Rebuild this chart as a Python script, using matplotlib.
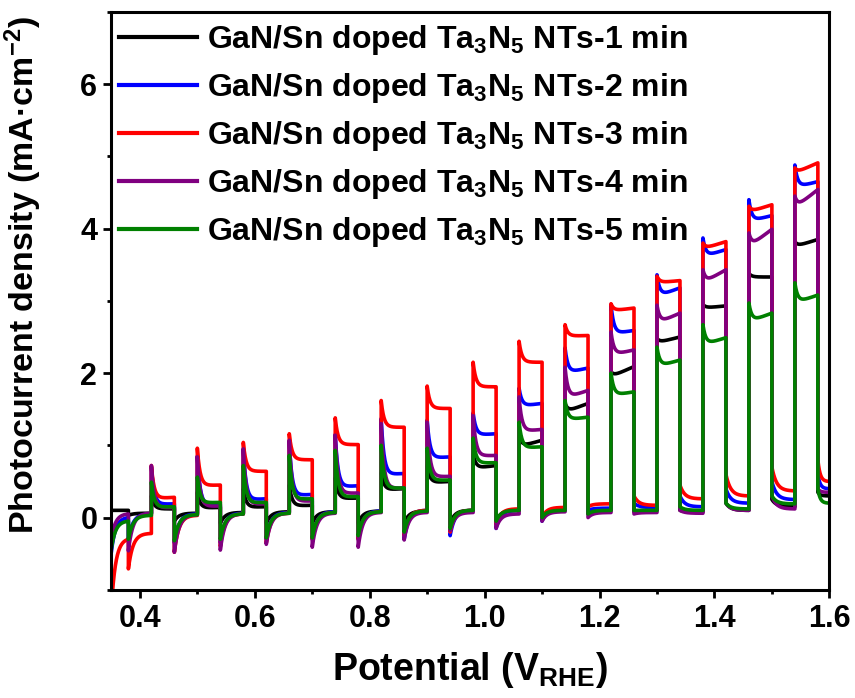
import numpy as np
import matplotlib
matplotlib.use("Agg")
import matplotlib.pyplot as plt

# ---------------- data ----------------
labels = [
    r"GaN/Sn doped Ta$_{3}$N$_{5}$ NTs-1 min",
    r"GaN/Sn doped Ta$_{3}$N$_{5}$ NTs-2 min",
    r"GaN/Sn doped Ta$_{3}$N$_{5}$ NTs-3 min",
    r"GaN/Sn doped Ta$_{3}$N$_{5}$ NTs-4 min",
    r"GaN/Sn doped Ta$_{3}$N$_{5}$ NTs-5 min",
]
colors = ["#000000", "#0000FF", "#FF0000", "#800080", "#008000"]

# light chopping potentials (V vs RHE)
light_on = [0.42, 0.50, 0.58, 0.66, 0.74, 0.82, 0.90, 0.98, 1.06, 1.14, 1.22, 1.30, 1.38, 1.46, 1.54]
light_off = [0.46, 0.54, 0.62, 0.70, 0.78, 0.86, 0.94, 1.02, 1.10, 1.18, 1.26, 1.34, 1.42, 1.50, 1.58]
scan_start, first_off, scan_end = 0.35, 0.38, 1.60

# initial part of the scan: [value at 0.35, value at 0.38, dip at 0.38, dark before 0.42]
init_1min = [0.10, 0.10, 0.03, 0.06]
init_2min = [-0.50, 0.00, -0.30, 0.05]
init_3min = [-1.30, -0.30, -0.71, -0.22]
init_4min = [-0.30, 0.05, -0.46, 0.06]
init_5min = [-0.45, -0.05, -0.30, 0.03]

# light-on transient spike
peak_1min = [0.30, 0.35, 0.40, 0.45, 0.55, 0.62, 0.72, 0.88, 1.12, 1.58, 2.02, 2.48, 2.95, 3.38, 3.82]
peak_2min = [0.70, 0.85, 0.95, 1.05, 1.15, 1.37, 1.35, 1.45, 1.79, 2.35, 2.95, 3.36, 3.87, 4.40, 4.88]
peak_3min = [0.72, 0.96, 1.04, 1.16, 1.38, 1.62, 1.82, 2.15, 2.44, 2.67, 2.96, 3.34, 3.80, 4.31, 4.84]
peak_4min = [0.72, 0.84, 0.95, 1.07, 1.14, 1.30, 1.32, 1.41, 1.67, 2.08, 2.57, 2.94, 3.43, 3.94, 4.45]
peak_5min = [0.49, 0.56, 0.72, 0.86, 0.93, 1.00, 0.96, 1.10, 1.32, 1.62, 2.00, 2.36, 2.67, 2.97, 3.25]

# photocurrent after the spike has relaxed
low_1min = [0.12, 0.13, 0.14, 0.16, 0.26, 0.38, 0.48, 0.68, 0.98, 1.46, 1.95, 2.42, 2.90, 3.33, 3.75]
low_2min = [0.18, 0.17, 0.24, 0.30, 0.42, 0.59, 0.82, 1.14, 1.54, 2.00, 2.54, 3.06, 3.61, 4.10, 4.57]
low_3min = [0.26, 0.44, 0.64, 0.80, 1.01, 1.25, 1.51, 1.81, 2.15, 2.51, 2.86, 3.25, 3.72, 4.23, 4.77]
low_4min = [0.13, 0.15, 0.18, 0.22, 0.33, 0.40, 0.56, 0.85, 1.19, 1.65, 2.25, 2.69, 3.25, 3.75, 4.29]
low_5min = [0.14, 0.20, 0.20, 0.25, 0.28, 0.40, 0.51, 0.75, 0.96, 1.35, 1.69, 2.09, 2.39, 2.71, 2.97]

# photocurrent just before light off
end_1min = [0.12, 0.14, 0.15, 0.17, 0.27, 0.40, 0.50, 0.72, 1.07, 1.58, 2.09, 2.50, 2.93, 3.33, 3.85]
end_2min = [0.19, 0.18, 0.26, 0.32, 0.44, 0.61, 0.84, 1.16, 1.58, 2.07, 2.59, 3.18, 3.71, 4.18, 4.65]
end_3min = [0.28, 0.45, 0.64, 0.80, 1.01, 1.25, 1.51, 1.81, 2.15, 2.52, 2.90, 3.28, 3.82, 4.33, 4.91]
end_4min = [0.14, 0.16, 0.19, 0.23, 0.34, 0.41, 0.57, 0.86, 1.22, 1.76, 2.32, 2.83, 3.43, 3.99, 4.54]
end_5min = [0.15, 0.21, 0.21, 0.26, 0.29, 0.41, 0.52, 0.76, 0.98, 1.39, 1.74, 2.18, 2.49, 2.83, 3.08]

# current right after light off
dip_1min = [-0.05, -0.08, -0.08, -0.08, -0.08, -0.08, -0.08, -0.05, 0.00, 0.05, 0.08, 0.10, 0.20, 0.25, 0.35]
dip_2min = [-0.35, -0.35, -0.30, -0.30, -0.30, -0.30, -0.25, -0.15, -0.05, 0.10, 0.20, 0.30, 0.40, 0.50, 0.60]
dip_3min = [-0.48, -0.40, -0.35, -0.30, -0.30, -0.25, -0.20, -0.10, 0.00, 0.15, 0.30, 0.45, 0.60, 0.70, 0.80]
dip_4min = [-0.48, -0.45, -0.37, -0.41, -0.41, -0.31, -0.18, -0.15, -0.05, 0.00, 0.05, 0.10, 0.20, 0.30, 0.40]
dip_5min = [-0.32, -0.30, -0.28, -0.28, -0.25, -0.20, -0.15, -0.05, 0.00, 0.05, 0.10, 0.15, 0.20, 0.30, 0.40]

# dark current at the end of each dark period
dark_1min = [0.06, 0.07, 0.08, 0.08, 0.09, 0.09, 0.10, 0.10, 0.10, 0.10, 0.10, 0.08, 0.10, 0.15, 0.30]
dark_2min = [0.05, 0.06, 0.07, 0.08, 0.09, 0.10, 0.10, 0.10, 0.12, 0.13, 0.14, 0.15, 0.20, 0.25, 0.40]
dark_3min = [0.03, 0.05, 0.06, 0.07, 0.08, 0.10, 0.10, 0.12, 0.14, 0.19, 0.17, 0.26, 0.30, 0.37, 0.50]
dark_4min = [0.04, 0.05, 0.06, 0.06, 0.07, 0.07, 0.07, 0.05, 0.08, 0.07, 0.07, 0.06, 0.10, 0.12, 0.35]
dark_5min = [0.04, 0.05, 0.06, 0.07, 0.08, 0.09, 0.10, 0.10, 0.10, 0.10, 0.10, 0.10, 0.12, 0.19, 0.20]

series = [
    (init_1min, peak_1min, low_1min, end_1min, dip_1min, dark_1min),
    (init_2min, peak_2min, low_2min, end_2min, dip_2min, dark_2min),
    (init_3min, peak_3min, low_3min, end_3min, dip_3min, dark_3min),
    (init_4min, peak_4min, low_4min, end_4min, dip_4min, dark_4min),
    (init_5min, peak_5min, low_5min, end_5min, dip_5min, dark_5min),
]


def relax(start, target, n, tau):
    s = np.linspace(0, 1, n)
    w = (np.exp(-s / tau) - np.exp(-1 / tau)) / (1 - np.exp(-1 / tau))
    return target + (start - target) * w


def build(init, peak, low, end, dip, dark):
    xs, ys = [], []
    n = 50
    xs.append(np.linspace(scan_start, first_off, n))
    ys.append(relax(init[0], init[1], n, 0.25))
    xs.append(np.linspace(first_off, light_on[0], n))
    ys.append(relax(init[2], init[3], n, 0.2))
    for k in range(len(light_on)):
        s = np.linspace(0, 1, n)
        xs.append(np.linspace(light_on[k], light_off[k], n))
        ys.append(low[k] + (end[k] - low[k]) * s + (peak[k] - low[k]) * np.exp(-s / 0.12))
        nxt = light_on[k + 1] if k + 1 < len(light_on) else scan_end
        xs.append(np.linspace(light_off[k], nxt, n))
        ys.append(relax(dip[k], dark[k], n, 0.2))
    return np.concatenate(xs), np.concatenate(ys)


# ---------------- style ----------------
plt.rcParams["font.family"] = ["Liberation Sans", "DejaVu Sans"]
plt.rcParams["font.weight"] = "bold"
plt.rcParams["mathtext.fontset"] = "custom"
plt.rcParams["mathtext.rm"] = "Liberation Sans:bold"
plt.rcParams["mathtext.bf"] = "Liberation Sans:bold"
plt.rcParams["mathtext.it"] = "Liberation Sans:bold:italic"
plt.rcParams["mathtext.default"] = "rm"

fig = plt.figure(figsize=(8.55, 6.98), dpi=100)
ax = fig.add_axes([0.130, 0.155, 0.840, 0.828])

for (init, peak, low, end, dip, dark), c, lab in zip(series, colors, labels):
    x, y = build(init, peak, low, end, dip, dark)
    ax.plot(x, y, color=c, lw=2.6, label=lab, solid_joinstyle="round")

ax.set_xlim(0.35, 1.6)
ax.set_ylim(-1, 7)
ax.set_xticks([0.4, 0.6, 0.8, 1.0, 1.2, 1.4, 1.6])
ax.set_xticks([0.5, 0.7, 0.9, 1.1, 1.3, 1.5], minor=True)
ax.set_yticks([0, 2, 4, 6])
ax.set_yticks([-1, 1, 3, 5, 7], minor=True)
ax.set_xticklabels(["0.4", "0.6", "0.8", "1.0", "1.2", "1.4", "1.6"])
ax.set_yticklabels(["0", "2", "4", "6"])
ax.tick_params(which="major", direction="out", length=6, width=2, labelsize=22, pad=4)
ax.tick_params(which="minor", direction="out", length=3, width=2)
for lbl in ax.get_xticklabels() + ax.get_yticklabels():
    lbl.set_fontweight("bold")
for sp in ax.spines.values():
    sp.set_linewidth(2.2)

ax.set_xlabel(r"Potential (V$_{\mathrm{RHE}}$)", fontsize=27, fontweight="bold", labelpad=12)
ax.set_ylabel("Photocurrent density (mA\u00b7cm$^{-2}$)", fontsize=24.5, fontweight="bold")
ax.yaxis.set_label_coords(-0.094, 0.545)

leg = ax.legend(loc="upper left", bbox_to_anchor=(0.0, 0.995), frameon=False,
                prop={"size": 23, "weight": "bold"}, handlelength=2.45,
                handletextpad=0.3, labelspacing=0.44, borderaxespad=0.15,
                borderpad=0.1)
for h in leg.get_lines():
    h.set_linewidth(3.0)

fig.savefig("out.png", dpi=100)
